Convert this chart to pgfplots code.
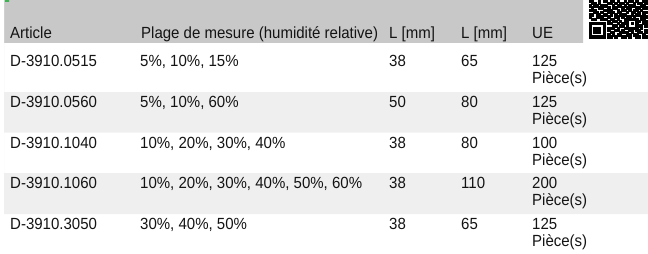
\documentclass[border=0pt]{standalone}
\usepackage{fontspec}
\setmainfont{Liberation Sans}[FakeStretch=0.93]
\usepackage{pgfplots}
\pgfplotsset{compat=1.18}
\definecolor{hdr}{RGB}{200,200,200}
\definecolor{stripe}{RGB}{239,239,239}
\definecolor{txt}{RGB}{20,20,20}
\definecolor{grn}{RGB}{60,180,80}
\tikzset{cell/.style={anchor=base west, font=\fontsize{16.2}{17}\selectfont, text=txt, inner sep=0pt}}
\begin{document}
\begin{tikzpicture}
\useasboundingbox (0,0) rectangle (648bp,254bp);
\begin{axis}[at={(0,0)}, anchor=south west, scale only axis, width=648bp, height=254bp,
  xmin=0, xmax=648, ymin=0, ymax=254, y dir=reverse, hide axis, clip=false]
% header band and row stripes
\addplot[fill=hdr, draw=none] coordinates {(4,0) (583,0) (583,43) (4,43)} \closedcycle;
\addplot[fill=grn, draw=none] coordinates {(5,0) (9,0) (9,2) (5,2)} \closedcycle;
\addplot[fill=stripe, draw=none] coordinates {(4,92) (648,92) (648,132.5) (4,132.5)} \closedcycle;
\addplot[fill=stripe, draw=none] coordinates {(4,173) (648,173) (648,214) (4,214)} \closedcycle;
% header
\node[cell] at (axis cs:10,38) {Article};
\node[cell] at (axis cs:141,38) {Plage de mesure (humidité relative)};
\node[cell] at (axis cs:389,38) {L [mm]};
\node[cell] at (axis cs:461,38) {L [mm]};
\node[cell] at (axis cs:532,38) {UE};
% rows
\node[cell] at (axis cs:10,66.5) {D-3910.0515};
\node[cell] at (axis cs:140,66.5) {5\%, 10\%, 15\%};
\node[cell] at (axis cs:389,66.5) {38};
\node[cell] at (axis cs:461,66.5) {65};
\node[cell] at (axis cs:532,66.5) {125};
\node[cell] at (axis cs:532,83.5) {Pièce(s)};
\node[cell] at (axis cs:10,107.3) {D-3910.0560};
\node[cell] at (axis cs:140,107.3) {5\%, 10\%, 60\%};
\node[cell] at (axis cs:389,107.3) {50};
\node[cell] at (axis cs:461,107.3) {80};
\node[cell] at (axis cs:532,107.3) {125};
\node[cell] at (axis cs:532,124.3) {Pièce(s)};
\node[cell] at (axis cs:10,148.1) {D-3910.1040};
\node[cell] at (axis cs:140,148.1) {10\%, 20\%, 30\%, 40\%};
\node[cell] at (axis cs:389,148.1) {38};
\node[cell] at (axis cs:461,148.1) {80};
\node[cell] at (axis cs:532,148.1) {100};
\node[cell] at (axis cs:532,165.1) {Pièce(s)};
\node[cell] at (axis cs:10,188.9) {D-3910.1060};
\node[cell] at (axis cs:140,188.9) {10\%, 20\%, 30\%, 40\%, 50\%, 60\%};
\node[cell] at (axis cs:389,188.9) {38};
\node[cell] at (axis cs:461,188.9) {110};
\node[cell] at (axis cs:532,188.9) {200};
\node[cell] at (axis cs:532,205.9) {Pièce(s)};
\node[cell] at (axis cs:10,229.7) {D-3910.3050};
\node[cell] at (axis cs:140,229.7) {30\%, 40\%, 50\%};
\node[cell] at (axis cs:389,229.7) {38};
\node[cell] at (axis cs:461,229.7) {65};
\node[cell] at (axis cs:532,229.7) {125};
\node[cell] at (axis cs:532,246.7) {Pièce(s)};
\end{axis}
% QR code (visible lower part)
\begin{axis}[at={(589bp,254bp)}, anchor=north west, scale only axis, width=58bp, height=38bp,
  xmin=-0.5, xmax=24.5, ymin=-0.5, ymax=16.5, y dir=reverse, hide axis, clip=false]
\addplot[only marks, mark=square*, mark size=1.2pt, mark options={draw=none, fill=black}] coordinates {
(0,0)(1,0)(4,0)(6,0)(7,0)(9,0)(10,0)(12,0)(15,0)(17,0)(18,0)(20,0)(23,0)(24,0)
(1,1)(2,1)(4,1)(8,1)(9,1)(11,1)(13,1)(14,1)(16,1)(19,1)(21,1)(22,1)(24,1)
(0,2)(2,2)(3,2)(5,2)(6,2)(7,2)(10,2)(12,2)(13,2)(15,2)(17,2)(18,2)(19,2)(22,2)(23,2)
(1,3)(4,3)(5,3)(8,3)(10,3)(11,3)(14,3)(16,3)(17,3)(20,3)(21,3)(23,3)(24,3)
(0,4)(1,4)(2,4)(6,4)(7,4)(8,4)(9,4)(12,4)(14,4)(15,4)(17,4)(19,4)(20,4)(22,4)
(2,5)(3,5)(5,5)(8,5)(9,5)(10,5)(12,5)(13,5)(16,5)(18,5)(19,5)(21,5)(23,5)(24,5)
(0,6)(1,6)(3,6)(4,6)(6,6)(7,6)(9,6)(11,6)(13,6)(14,6)(15,6)(18,6)(20,6)(21,6)(23,6)
(0,7)(3,7)(4,7)(5,7)(8,7)(11,7)(12,7)(14,7)(16,7)(17,7)(19,7)(22,7)(23,7)(24,7)
(1,8)(2,8)(5,8)(6,8)(7,8)(9,8)(10,8)(12,8)(15,8)(16,8)(17,8)(18,8)(19,8)(20,8)(22,8)(23,8)
(8,9)(10,9)(11,9)(13,9)(15,9)(16,9)(20,9)(21,9)(23,9)(24,9)
(0,10)(1,10)(2,10)(3,10)(4,10)(5,10)(6,10)(8,10)(9,10)(12,10)(14,10)(15,10)(16,10)(18,10)(20,10)(23,10)(24,10)
(0,11)(6,11)(10,11)(11,11)(13,11)(14,11)(16,11)(20,11)(21,11)(22,11)(24,11)
(0,12)(2,12)(3,12)(4,12)(6,12)(8,12)(9,12)(10,12)(12,12)(15,12)(16,12)(17,12)(18,12)(19,12)(20,12)(22,12)
(0,13)(2,13)(3,13)(4,13)(6,13)(8,13)(11,13)(12,13)(14,13)(17,13)(18,13)(20,13)(21,13)(24,13)
(0,14)(2,14)(3,14)(4,14)(6,14)(9,14)(10,14)(13,14)(14,14)(15,14)(16,14)(18,14)(21,14)(22,14)(24,14)
(0,15)(6,15)(8,15)(10,15)(12,15)(13,15)(16,15)(17,15)(19,15)(20,15)(23,15)
(0,16)(1,16)(2,16)(3,16)(4,16)(5,16)(6,16)(8,16)(9,16)(11,16)(14,16)(15,16)(17,16)(20,16)(21,16)(23,16)(24,16)
};
\end{axis}
\end{tikzpicture}
\end{document}
